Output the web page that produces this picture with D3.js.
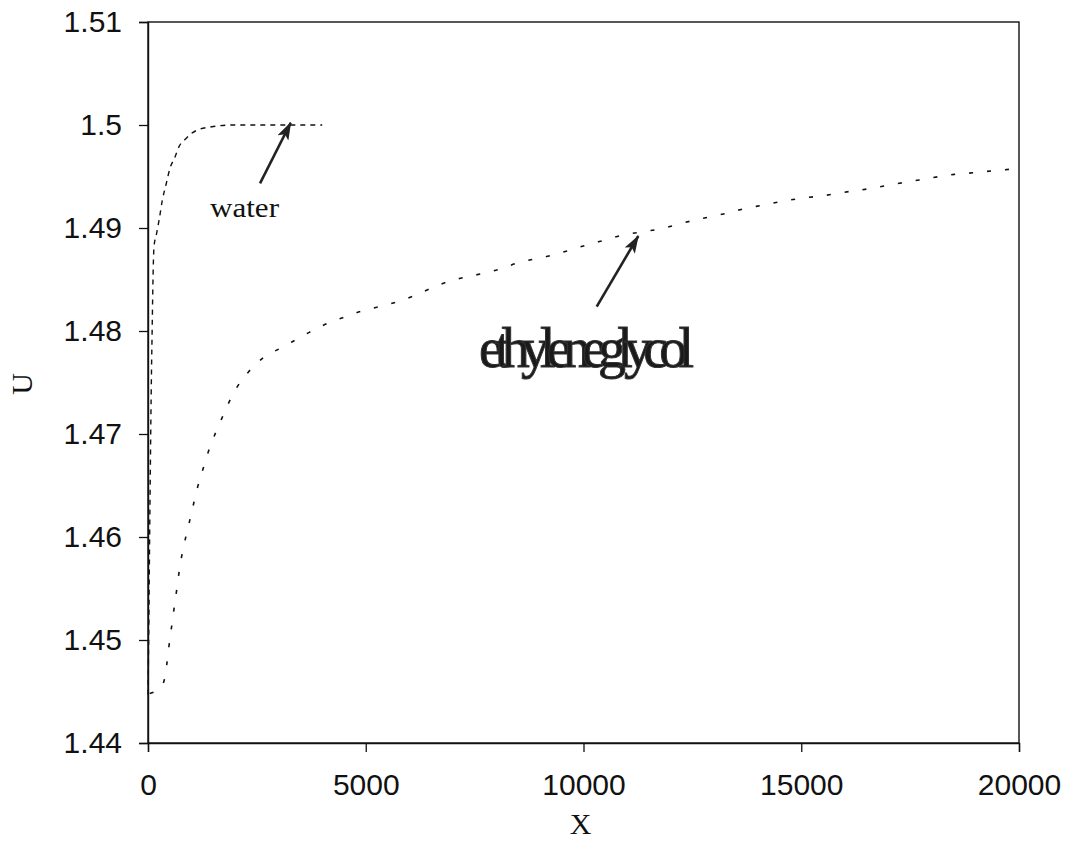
<!DOCTYPE html>
<html>
<head>
<meta charset="utf-8">
<script src="https://cdn.jsdelivr.net/npm/d3@7"></script>
<style>
  html, body { margin: 0; padding: 0; background: #fff; }
  svg { display: block; }
</style>
</head>
<body>
<svg id="chart" width="1069" height="862"></svg>
<script>
// ---- data ----
const xTicks = [0, 5000, 10000, 15000, 20000];
const yTicks = [1.44, 1.45, 1.46, 1.47, 1.48, 1.49, 1.5, 1.51];
const yTickLabels = ["1.44", "1.45", "1.46", "1.47", "1.48", "1.49", "1.5", "1.51"];

const waterX = [0, 20, 35, 50, 65, 80, 95, 110, 138, 199, 260, 329, 413, 505, 620, 712, 850, 1003, 1194, 1424, 1577, 2000, 3000, 4000];
const waterU = [1.4447, 1.452, 1.459, 1.465, 1.471, 1.476, 1.480, 1.4840, 1.4882, 1.4895, 1.4909, 1.4927, 1.4942, 1.4958, 1.4969, 1.4979, 1.4986, 1.4992, 1.4996, 1.4998, 1.4999, 1.5, 1.5, 1.5];

const glycolX = [40, 200, 351, 429, 482, 544, 604, 666, 728, 810, 925, 1026, 1132, 1256, 1385, 1476, 1653, 1837, 2037, 2312, 2647, 3038, 3313, 3704, 4126, 4471, 4884, 5311, 5734, 7010, 7623, 8066, 8503, 9207, 9650, 10073, 10493, 10914, 11373, 11832, 12254, 12750, 13209, 13655, 14092, 14742, 15186, 15646, 16083, 16366, 16809, 17252, 17704, 18147, 18514, 18966, 19410, 19855, 20000];
const glycolU = [1.4448, 1.4451, 1.4458, 1.44757, 1.44942, 1.45136, 1.45323, 1.45508, 1.45702, 1.4589, 1.461, 1.46284, 1.46473, 1.4665, 1.46828, 1.46932, 1.4711, 1.47288, 1.4745, 1.47605, 1.47741, 1.47832, 1.47896, 1.47987, 1.48075, 1.48129, 1.48191, 1.48236, 1.48284, 1.48495, 1.48553, 1.48599, 1.48663, 1.48728, 1.4878, 1.48835, 1.48883, 1.48932, 1.48964, 1.48997, 1.49046, 1.49094, 1.49136, 1.49184, 1.4922, 1.49272, 1.49298, 1.49323, 1.49353, 1.49369, 1.49401, 1.49434, 1.49466, 1.49498, 1.49521, 1.49537, 1.49556, 1.49573, 1.4958];

const labels = ["water", "ethyleneglycol"];
const labelAnchor = [[1424, 1.49107], [7600, 1.4765]];
const arrowTail = [[2572, 1.49434], [10303, 1.48236]];
const arrowTip = [[3277, 1.50022], [11258, 1.48922]];

// ---- layout ----
const svg = d3.select("#chart");
const margin = { left: 148, top: 22, right: 50, bottom: 119 };
const W = 1069 - margin.left - margin.right;
const H = 862 - margin.top - margin.bottom;

const x = d3.scaleLinear().domain([0, 20000]).range([0, W]);
const y = d3.scaleLinear().domain([1.44, 1.51]).range([H, 0]);

const g = svg.append("g").attr("transform", `translate(${margin.left},${margin.top})`);

// frame
g.append("rect").attr("x", 0).attr("y", 0).attr("width", W).attr("height", H)
  .attr("fill", "none").attr("stroke", "#111").attr("stroke-width", 1.4);

// axes
const xAxis = g.append("g").attr("transform", `translate(0,${H})`)
  .call(d3.axisBottom(x).tickValues(xTicks).tickSize(9).tickPadding(22).tickFormat(d3.format("d")));
const yAxis = g.append("g")
  .call(d3.axisLeft(y).tickValues(yTicks).tickSize(9).tickPadding(17).tickFormat((d, i) => yTickLabels[i]));

[xAxis, yAxis].forEach(a => {
  a.select(".domain").attr("stroke", "#111").attr("stroke-width", 1.4);
  a.selectAll(".tick line").attr("stroke", "#111").attr("stroke-width", 1.3);
  a.selectAll(".tick text").attr("font-family", "Liberation Sans, Arial, sans-serif")
    .attr("font-size", 30).attr("fill", "#111");
});

// axis titles
svg.append("text").attr("x", margin.left + W / 2 - 3).attr("y", 834)
  .attr("text-anchor", "middle").attr("font-family", "Liberation Serif, Times New Roman, serif")
  .attr("font-size", 30).attr("fill", "#111").text("X");
svg.append("text").attr("transform", "translate(32,384) rotate(-90)")
  .attr("text-anchor", "middle").attr("font-family", "Liberation Serif, Times New Roman, serif")
  .attr("font-size", 30).attr("fill", "#111").text("U");

// curves
const line = d3.line().x(d => x(d[0])).y(d => y(d[1])).curve(d3.curveMonotoneX);
const waterData = waterX.map((v, i) => [v, waterU[i]]);
const glycolData = glycolX.map((v, i) => [v, glycolU[i]]);

g.append("path").datum(waterData).attr("d", line)
  .attr("fill", "none").attr("stroke", "#111").attr("stroke-width", 1.4)
  .attr("stroke-dasharray", "5,5");
g.append("path").datum(glycolData).attr("d", line)
  .attr("fill", "none").attr("stroke", "#111").attr("stroke-width", 1.6)
  .attr("stroke-dasharray", "4,14");

// arrows
const defs = svg.append("defs");
defs.append("marker").attr("id", "ah").attr("viewBox", "0 0 18 12")
  .attr("refX", 17).attr("refY", 6).attr("markerWidth", 18).attr("markerHeight", 12)
  .attr("markerUnits", "userSpaceOnUse").attr("orient", "auto")
  .append("path").attr("d", "M0,0 L18,6 L0,12 L4,6 Z").attr("fill", "#222");

arrowTail.forEach((t, i) => {
  g.append("line")
    .attr("x1", x(t[0])).attr("y1", y(t[1]))
    .attr("x2", x(arrowTip[i][0])).attr("y2", y(arrowTip[i][1]))
    .attr("stroke", "#222").attr("stroke-width", 2.6)
    .attr("marker-end", "url(#ah)");
});

// labels
g.append("text").attr("x", x(labelAnchor[0][0])).attr("y", y(labelAnchor[0][1]))
  .attr("font-family", "Liberation Serif, Times New Roman, serif").attr("font-size", 28)
  .attr("fill", "#111").attr("textLength", 69).attr("lengthAdjust", "spacingAndGlyphs")
  .text(labels[0]);
g.append("text").attr("x", x(labelAnchor[1][0])).attr("y", y(labelAnchor[1][1]))
  .attr("font-family", "Liberation Serif, Times New Roman, serif").attr("font-size", 56)
  .attr("fill", "#1a1a1a").attr("stroke", "#333").attr("stroke-width", 1)
  .attr("textLength", 215).attr("lengthAdjust", "spacing")
  .text(labels[1]);
</script>
</body>
</html>
